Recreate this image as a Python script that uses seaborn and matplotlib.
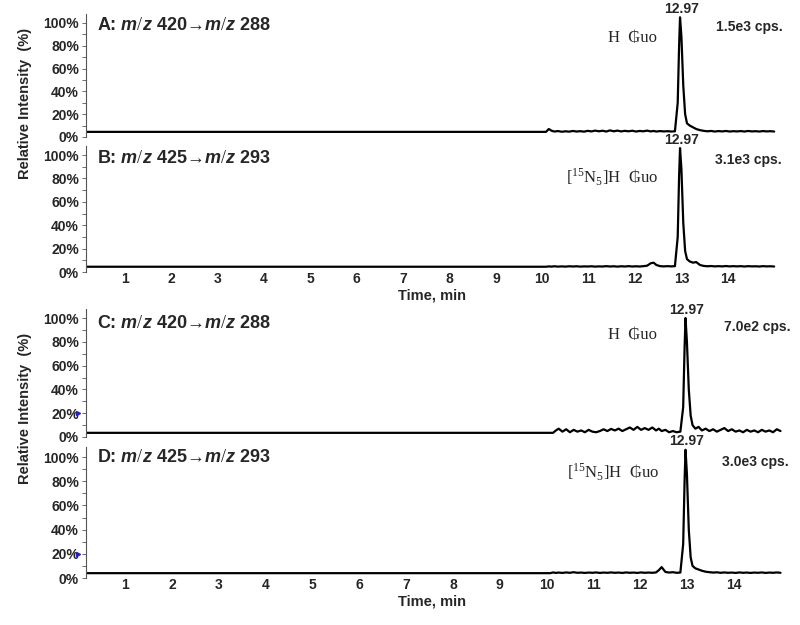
import numpy as np
import pandas as pd
import seaborn as sns
import matplotlib.pyplot as plt
from matplotlib.ticker import MultipleLocator, PercentFormatter

# Retention time grid (min) shared by all four traces
rt = [0.16, 10.08, 10.14, 10.2, 10.26, 10.34, 10.42, 10.5, 10.58, 10.66, 10.74, 10.82,
      10.9, 10.98, 11.06, 11.14, 11.22, 11.3, 11.38, 11.46, 11.54, 11.62, 11.7, 11.78,
      11.86, 11.94, 12.02, 12.1, 12.18, 12.26, 12.34, 12.4, 12.46, 12.54, 12.62, 12.7,
      12.78, 12.86, 12.92, 12.95, 12.97, 13.0, 13.04, 13.08, 13.12, 13.18, 13.25, 13.32,
      13.4, 13.48, 13.56, 13.64, 13.72, 13.8, 13.88, 13.96, 14.04, 14.12, 14.2, 14.28,
      14.36, 14.44, 14.52, 14.6, 14.68, 14.76, 14.84, 14.92, 15.0]

# Relative intensity (%)
int_a = [4.5, 4.5, 7.0, 5.5, 4.8, 5.2, 4.6, 5.0, 4.7, 5.3, 4.8, 5.1, 4.7, 5.4, 4.9, 5.6,
         5.0, 5.5, 4.8, 5.8, 5.0, 5.6, 4.9, 5.4, 5.0, 5.5, 4.8, 5.3, 5.0, 5.6, 4.9, 5.3,
         4.8, 5.2, 4.9, 5.1, 4.8, 5.0, 30, 80, 105, 88, 45, 20, 12, 10, 8.5, 7.0, 6.0,
         5.4, 5.0, 5.3, 4.8, 5.2, 4.9, 5.3, 4.8, 5.1, 4.9, 5.2, 4.8, 5.3, 4.9, 5.1, 4.8,
         5.2, 4.9, 5.1, 4.8]
int_b = [4.5, 4.5, 4.8, 4.6, 4.9, 4.6, 4.8, 4.6, 4.9, 4.7, 4.9, 4.6, 4.8, 4.7, 4.9, 4.6,
         4.8, 4.7, 5.0, 4.7, 4.9, 4.6, 4.9, 4.7, 5.0, 4.7, 4.9, 4.7, 5.0, 5.4, 7.5, 8.0,
         6.0, 5.0, 4.8, 5.0, 4.8, 5.0, 30, 82, 106, 88, 42, 18, 11, 9, 8, 8.5, 6.0, 5.2,
         4.9, 5.1, 4.8, 5.0, 4.8, 5.1, 4.8, 5.0, 4.8, 5.0, 4.7, 5.0, 4.8, 4.9, 4.7, 5.0,
         4.8, 4.9, 4.7]
int_c = [3.5, 3.5, 3.5, 5.5, 7.0, 4.5, 6.5, 4.0, 6.0, 4.5, 5.5, 4.0, 6.0, 4.5, 4.0, 5.0,
         6.5, 5.0, 6.8, 5.5, 7.0, 5.0, 6.5, 8.0, 6.0, 8.5, 6.0, 7.5, 6.0, 8.0, 5.5, 7.0,
         5.0, 6.0, 4.0, 5.0, 4.0, 4.5, 25, 75, 100, 80, 40, 18, 10, 7.0, 8.5, 5.5, 7.0,
         5.0, 6.5, 4.5, 6.0, 7.5, 5.0, 6.5, 4.5, 5.5, 4.0, 6.0, 4.5, 5.5, 4.0, 6.0, 4.5,
         5.5, 4.0, 6.5, 5.0]
int_d = [4.0, 4.0, 4.6, 4.2, 4.5, 4.2, 4.6, 4.3, 4.8, 4.3, 4.5, 4.2, 4.5, 4.3, 4.6, 4.2,
         4.5, 4.3, 4.6, 4.3, 4.5, 4.2, 4.6, 4.3, 4.5, 4.2, 4.6, 4.3, 4.5, 4.3, 4.6, 6.5,
         9.0, 5.0, 4.5, 4.8, 4.3, 4.5, 28, 80, 106, 86, 40, 17, 10, 8.0, 7.0, 6.0, 5.2,
         4.8, 4.5, 4.7, 4.3, 4.6, 4.3, 4.5, 4.2, 4.6, 4.3, 4.5, 4.2, 4.5, 4.3, 4.6, 4.2,
         4.5, 4.3, 4.6, 4.3]

panel_ids = ["A", "B", "C", "D"]
transitions = [("420", "288"), ("425", "293"), ("420", "288"), ("425", "293")]
analytes = ["H  \u20b2uo", "[$^{15}$N$_{5}$]H  \u20b2uo", "H  \u20b2uo", "[$^{15}$N$_{5}$]H  \u20b2uo"]
cps_labels = ["1.5e3 cps.", "3.1e3 cps.", "7.0e2 cps.", "3.0e3 cps."]
peak_rt = "12.97"
x_ticks = list(range(1, 15))

sns.set_style("white")
plt.rcParams["font.family"] = ["Liberation Sans", "DejaVu Sans"]
plt.rcParams["mathtext.fontset"] = "custom"
plt.rcParams["mathtext.rm"] = "Liberation Serif"
plt.rcParams["mathtext.it"] = "Liberation Sans:italic:bold"

df = pd.DataFrame({"rt": rt, "A": int_a, "B": int_b, "C": int_c, "D": int_d})

fig = plt.figure(figsize=(8, 6.25), dpi=100)
positions = [
    [0.1075, 0.7808, 0.866, 0.197],
    [0.1075, 0.5648, 0.866, 0.202],
    [0.1075, 0.3008, 0.874, 0.2056],
    [0.1075, 0.0752, 0.874, 0.209],
]
# text placement per panel (data coords): analyte label, cps label, title y
analyte_xy = [(11.41, 87), (10.52, 81), (11.32, 86), (10.44, 87)]
cps_xy = [(15.18, 96.5), (15.16, 95.7), (15.21, 92.5), (15.17, 96)]
title_y = [0.905, 0.90, 0.885, 0.925]

for i, pid in enumerate(panel_ids):
    ax = fig.add_axes(positions[i])
    sns.lineplot(data=df, x="rt", y=pid, ax=ax, color="black", linewidth=1.6,
                 sort=False, estimator=None)
    ax.set_xlim(0.16, 15.1)
    ax.set_ylim(0, 108)
    ax.set_xlabel("")
    ax.set_ylabel("")
    for s in ["top", "right", "bottom"]:
        ax.spines[s].set_visible(False)
    ax.spines["left"].set_color("#555555")
    ax.spines["left"].set_linewidth(0.8)
    ax.yaxis.set_major_locator(MultipleLocator(20))
    ax.yaxis.set_minor_locator(MultipleLocator(10))
    ax.yaxis.set_major_formatter(PercentFormatter(decimals=0))
    ax.tick_params(axis="y", which="both", direction="out", length=3, width=0.6,
                   color="#555555", labelsize=10, pad=2, left=True)
    for lab in ax.get_yticklabels():
        lab.set_fontweight("bold")
    if pid in ("B", "D"):
        ax.set_xticks(x_ticks)
        ax.tick_params(axis="x", length=0, labelsize=10, pad=0)
        for lab in ax.get_xticklabels():
            lab.set_fontweight("bold")
    else:
        ax.set_xticks([])

    a, b = transitions[i]
    ax.text(0.016, title_y[i], f"{pid}: $\\mathit{{m/z}}$ {a}\u2192$\\mathit{{m/z}}$ {b}",
            transform=ax.transAxes, fontsize=13, fontweight="bold", va="center")
    ax.text(analyte_xy[i][0], analyte_xy[i][1], analytes[i], fontsize=12,
            family=["Liberation Serif", "DejaVu Serif", "DejaVu Sans"], va="center")
    ax.text(cps_xy[i][0], cps_xy[i][1], cps_labels[i], fontsize=10, fontweight="bold",
            ha="right", va="center", clip_on=False)
    k = int(df[pid].idxmax())
    ax.annotate(peak_rt, (df["rt"][k], df[pid][k]), xytext=(1, 1), textcoords="offset points",
                ha="center", va="bottom", fontsize=10, fontweight="bold",
                annotation_clip=False)
    if pid in ("C", "D"):
        ax.plot([-0.012], [20], marker=">", color="#2222cc", markersize=3,
                transform=ax.get_yaxis_transform(), clip_on=False)

fig.text(0.031, 0.834, "Relative Intensity  (%)", rotation=90, ha="center", va="center",
         fontsize=10.5, fontweight="bold")
fig.text(0.031, 0.347, "Relative Intensity  (%)", rotation=90, ha="center", va="center",
         fontsize=10.5, fontweight="bold")
fig.text(0.54, 0.527, "Time, min", ha="center", va="center", fontsize=10.5, fontweight="bold")
fig.text(0.54, 0.038, "Time, min", ha="center", va="center", fontsize=10.5, fontweight="bold")

fig.savefig("out.png", dpi=100)
